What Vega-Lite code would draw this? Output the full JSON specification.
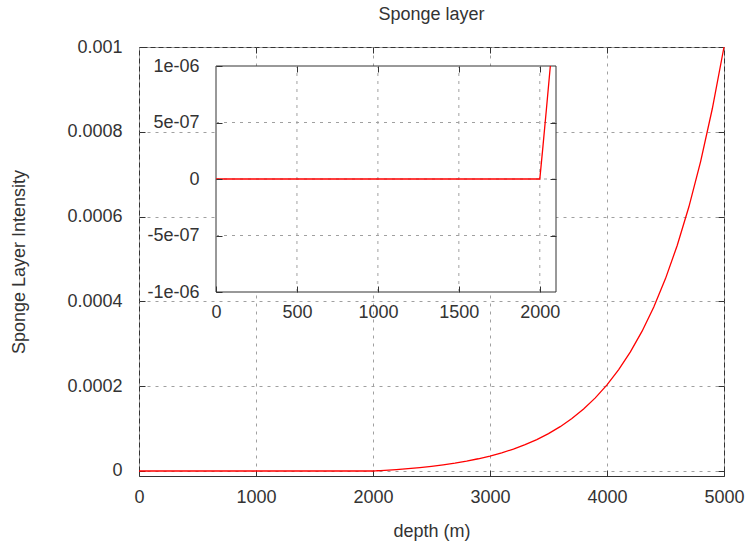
{
  "$schema": "https://vega.github.io/schema/vega-lite/v6.json",
  "width": 585,
  "height": 429,
  "autosize": "none",
  "padding": {"left": 139, "top": 47, "right": 21, "bottom": 72},
  "background": "white",
  "title": {
    "text": "Sponge layer",
    "frame": "group",
    "anchor": "middle",
    "baseline": "alphabetic",
    "offset": 0,
    "font": "Liberation Sans",
    "fontSize": 18,
    "fontWeight": "normal",
    "color": "#333"
  },
  "datasets": {
    "sponge": [
      {"depth": 0, "intensity": 0},
      {"depth": 2000, "intensity": 0},
      {"depth": 2020, "intensity": 2.98e-7},
      {"depth": 2040, "intensity": 6.06e-7},
      {"depth": 2065, "intensity": 1.004e-6},
      {"depth": 2100, "intensity": 1.588e-6},
      {"depth": 2200, "intensity": 3.444e-6},
      {"depth": 2300, "intensity": 5.613e-6},
      {"depth": 2400, "intensity": 8.147e-6},
      {"depth": 2500, "intensity": 1.111e-5},
      {"depth": 2600, "intensity": 1.457e-5},
      {"depth": 2700, "intensity": 1.861e-5},
      {"depth": 2800, "intensity": 2.334e-5},
      {"depth": 2900, "intensity": 2.886e-5},
      {"depth": 3000, "intensity": 3.532e-5},
      {"depth": 3100, "intensity": 4.287e-5},
      {"depth": 3200, "intensity": 5.168e-5},
      {"depth": 3300, "intensity": 6.198e-5},
      {"depth": 3400, "intensity": 7.402e-5},
      {"depth": 3500, "intensity": 8.809e-5},
      {"depth": 3600, "intensity": 1.0453e-4},
      {"depth": 3700, "intensity": 1.2374e-4},
      {"depth": 3800, "intensity": 1.4619e-4},
      {"depth": 3900, "intensity": 1.7242e-4},
      {"depth": 4000, "intensity": 2.031e-4},
      {"depth": 4100, "intensity": 2.3893e-4},
      {"depth": 4200, "intensity": 2.808e-4},
      {"depth": 4300, "intensity": 3.2974e-4},
      {"depth": 4400, "intensity": 3.8692e-4},
      {"depth": 4500, "intensity": 4.5375e-4},
      {"depth": 4600, "intensity": 5.3184e-4},
      {"depth": 4700, "intensity": 6.2308e-4},
      {"depth": 4800, "intensity": 7.2973e-4},
      {"depth": 4900, "intensity": 8.5434e-4},
      {"depth": 5000, "intensity": 1.0e-3}
    ],
    "insetDepthTicks": [
      {"depth": 500}, {"depth": 1000}, {"depth": 1500}, {"depth": 2000}
    ],
    "insetIntensityTicks": [
      {"intensity": -5e-7}, {"intensity": 0}, {"intensity": 5e-7}
    ]
  },
  "data": {"name": "sponge"},
  "layer": [
    {
      "mark": {"type": "line", "color": "#ff0000", "strokeWidth": 1.3},
      "encoding": {
        "x": {
          "field": "depth", "type": "quantitative",
          "scale": {"domain": [0, 5000], "nice": false, "zero": false},
          "axis": {
            "orient": "bottom", "title": "depth (m)", "format": "d",
            "values": [0, 1000, 2000, 3000, 4000, 5000],
            "grid": true, "labelPadding": 18.5, "titlePadding": 16
          }
        },
        "y": {
          "field": "intensity", "type": "quantitative",
          "scale": {"domain": [-0.0000118, 0.001], "nice": false, "zero": false},
          "axis": {
            "orient": "left", "title": "Sponge Layer Intensity", "format": "~g",
            "values": [0, 0.0002, 0.0004, 0.0006, 0.0008, 0.001],
            "grid": true, "labelPadding": 23, "titlePadding": 38
          }
        }
      }
    },
    {
      "mark": {"type": "line", "opacity": 0},
      "encoding": {
        "x": {
          "field": "depth", "type": "quantitative",
          "scale": {"domain": [0, 5000], "nice": false, "zero": false},
          "axis": {"orient": "top", "labels": false, "grid": false, "title": null,
                   "values": [1000, 2000, 3000, 4000]}
        },
        "y": {
          "field": "intensity", "type": "quantitative",
          "scale": {"domain": [-0.0000118, 0.001], "nice": false, "zero": false},
          "axis": {"orient": "right", "labels": false, "grid": false, "title": null,
                   "values": [0, 0.0002, 0.0004, 0.0006, 0.0008]}
        }
      }
    },
    {
      "data": {"values": [{}]},
      "mark": {"type": "rect", "fill": "white", "stroke": "#333", "strokeWidth": 1},
      "encoding": {
        "x": {
          "datum": 0, "type": "quantitative",
          "scale": {"domain": [0, 2100], "range": [77, 417], "nice": false, "zero": false},
          "axis": {"orient": "bottom", "offset": -184, "zindex": 1, "title": null,
                   "format": "d", "values": [0, 500, 1000, 1500, 2000],
                   "grid": false, "labelPadding": 17.5}
        },
        "x2": {"datum": 2100},
        "y": {
          "datum": -0.000001, "type": "quantitative",
          "scale": {"domain": [-0.000001, 0.000001], "range": [245, 19], "nice": false, "zero": false},
          "axis": {"orient": "left", "offset": -77, "zindex": 1, "title": null,
                   "values": [-0.000001, -0.0000005, 0, 0.0000005, 0.000001],
                   "labelExpr": "datum.value == 0 ? '0' : (datum.value < 0 ? '-' : '') + replace(format(abs(datum.value), '~e'), 'e-', 'e-0')",
                   "grid": false, "labelPadding": 23}
        },
        "y2": {"datum": 0.000001}
      }
    },
    {
      "data": {"name": "insetDepthTicks"},
      "mark": {"type": "rule", "color": "#a0a0a0", "strokeDash": [3, 5], "strokeWidth": 1},
      "encoding": {
        "x": {
          "field": "depth", "type": "quantitative",
          "scale": {"domain": [0, 2100], "range": [77, 417], "nice": false, "zero": false},
          "axis": null
        },
        "y": {
          "datum": -0.000001, "type": "quantitative",
          "scale": {"domain": [-0.000001, 0.000001], "range": [245, 19], "nice": false, "zero": false},
          "axis": null
        },
        "y2": {"datum": 0.000001}
      }
    },
    {
      "data": {"name": "insetIntensityTicks"},
      "mark": {"type": "rule", "color": "#a0a0a0", "strokeDash": [3, 5], "strokeWidth": 1},
      "encoding": {
        "x": {
          "datum": 0, "type": "quantitative",
          "scale": {"domain": [0, 2100], "range": [77, 417], "nice": false, "zero": false},
          "axis": null
        },
        "x2": {"datum": 2100},
        "y": {
          "field": "intensity", "type": "quantitative",
          "scale": {"domain": [-0.000001, 0.000001], "range": [245, 19], "nice": false, "zero": false},
          "axis": null
        }
      }
    },
    {
      "transform": [{"filter": "datum.depth <= 2065"}],
      "mark": {"type": "line", "color": "#ff0000", "strokeWidth": 1.3},
      "encoding": {
        "x": {
          "field": "depth", "type": "quantitative",
          "scale": {"domain": [0, 2100], "range": [77, 417], "nice": false, "zero": false},
          "axis": {"orient": "top", "offset": -19, "zindex": 1, "labels": false,
                   "grid": false, "title": null, "values": [500, 1000, 1500, 2000]}
        },
        "y": {
          "field": "intensity", "type": "quantitative",
          "scale": {"domain": [-0.000001, 0.000001], "range": [245, 19], "nice": false, "zero": false, "clamp": true},
          "axis": {"orient": "right", "offset": -168, "zindex": 1, "labels": false,
                   "grid": false, "title": null, "values": [-0.0000005, 0, 0.0000005]}
        }
      }
    }
  ],
  "resolve": {
    "scale": {"x": "independent", "y": "independent"},
    "axis": {"x": "independent", "y": "independent"}
  },
  "config": {
    "view": {"stroke": "#333", "strokeWidth": 1},
    "axis": {
      "domain": false,
      "ticks": true,
      "tickSize": -6,
      "tickColor": "#333",
      "tickWidth": 1,
      "labelFont": "Liberation Sans",
      "labelFontSize": 18,
      "labelColor": "#333",
      "labelFlush": false,
      "labelOverlap": false,
      "titleFont": "Liberation Sans",
      "titleFontSize": 18,
      "titleFontWeight": "normal",
      "titleColor": "#333",
      "gridColor": "#a0a0a0",
      "gridDash": [3, 5],
      "gridWidth": 1
    }
  }
}
